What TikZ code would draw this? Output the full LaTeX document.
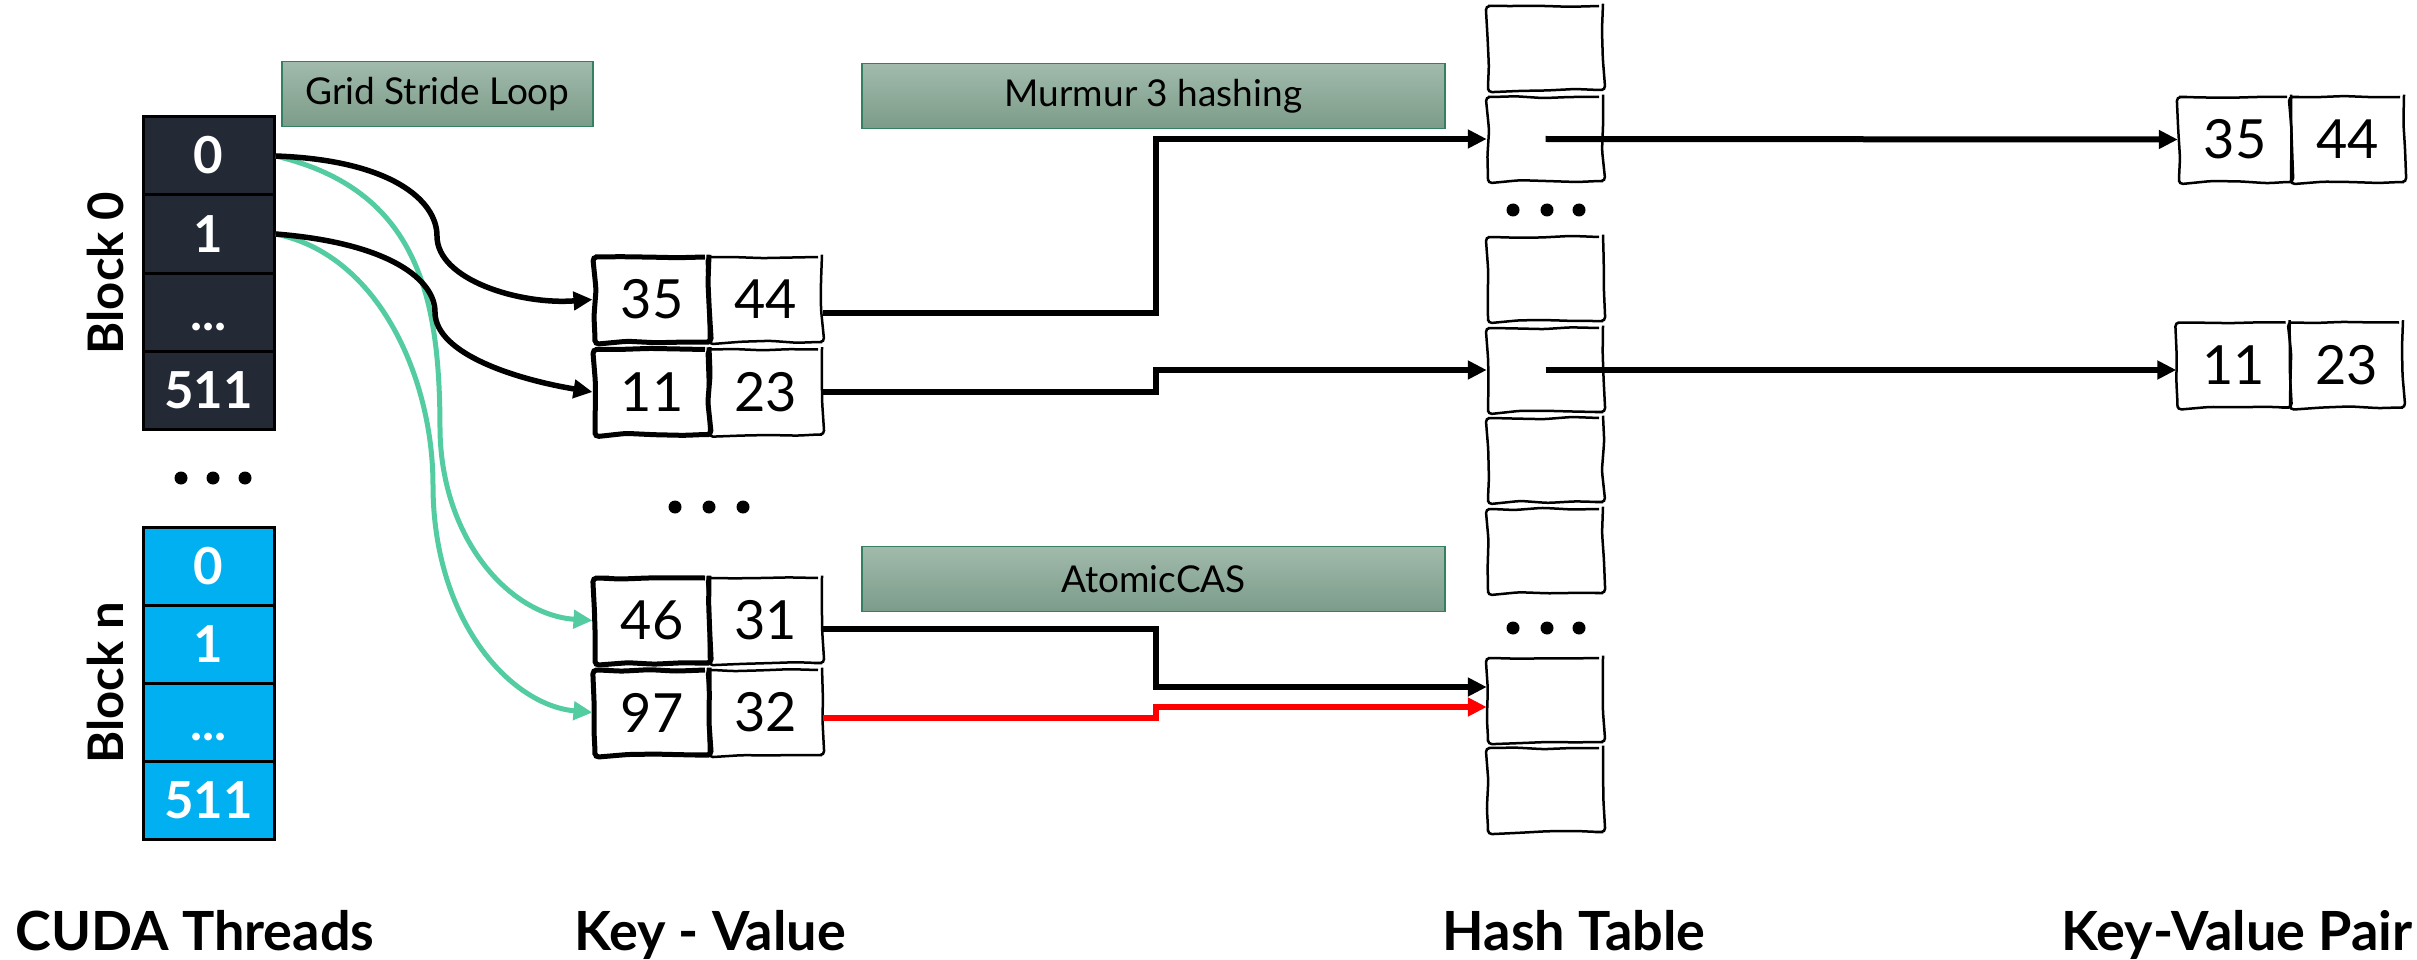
\documentclass[tikz,border=0pt]{standalone}
\usepackage{fontspec}
\setmainfont{Lato}
\usetikzlibrary{arrows.meta,decorations.pathmorphing,calc}

\definecolor{navy}{RGB}{35,42,53}
\definecolor{cyanblk}{RGB}{0,176,240}
\definecolor{linkgreen}{RGB}{82,204,160}
\definecolor{tagtop}{RGB}{161,186,171}
\definecolor{tagbot}{RGB}{124,156,138}
\definecolor{tagedge}{RGB}{52,128,96}

\newcommand\fsz[1]{\fontsize{#1}{#1}\selectfont}

\begin{document}
\begin{tikzpicture}[x=1pt,y=-1pt,
  cell/.style={draw=black, line width=3pt, minimum width=131pt, minimum height=78pt,
    inner sep=0pt, text=white, text height=36pt, text depth=0pt, font={\fsz{51}\bfseries}},
  blocklabel/.style={rotate=90, font={\fsz{49}\bfseries}},
  tag/.style={draw=tagedge, line width=1.5pt, top color=tagtop, bottom color=tagbot,
    minimum height=65pt, inner sep=0pt, font={\fsz{37}}},
  sketch/.style={draw=black, decorate,
    decoration={random steps, segment length=28pt, amplitude=1.2pt},
    rounded corners=4pt, inner sep=0pt, minimum height=85pt, font={\fsz{54}}},
  valbox/.style={sketch, line width=2.5pt, minimum width=113pt},
  keybox/.style={sketch, line width=5pt, minimum width=114pt},
  pairbox/.style={sketch, line width=2.5pt, minimum width=112pt},
  slot/.style={sketch, line width=2.5pt, minimum width=115pt, minimum height=84pt},
  heading/.style={anchor=base, font={\fsz{54}\bfseries}},
  tip/.style={-{Triangle[length=19pt,width=18pt]}},
  conn/.style={tip, draw=black, line width=6pt},
  curve/.style={tip, draw=black, line width=5.5pt},
  gcurve/.style={tip, draw=linkgreen, line width=5pt},
  rconn/.style={tip, draw=red, line width=6pt},
  dot/.style={circle, fill=black, inner sep=0pt, minimum size=13pt}
]
\pgfmathsetseed{12}
\useasboundingbox (0,0) rectangle (2417,960);

% thread blocks
\node[cell, fill=navy] (t0) at (208.5,156) {0};
\node[cell, fill=navy] (t1) at (208.5,234) {1};
\node[cell, fill=navy] (t2) at (208.5,312) {...};
\node[cell, fill=navy] (t3) at (208.5,390) {511};
\node[blocklabel] (b0) at (105,273) {Block 0};

\node[dot] (d1) at (181,478) {};
\node[dot] (d2) at (213,478) {};
\node[dot] (d3) at (245,478) {};

\node[cell, fill=cyanblk] (n0) at (208.5,566) {0};
\node[cell, fill=cyanblk] (n1) at (208.5,644) {1};
\node[cell, fill=cyanblk] (n2) at (208.5,722) {...};
\node[cell, fill=cyanblk] (n3) at (208.5,800) {511};
\node[blocklabel] (bn) at (105,683) {Block n};

% step labels
\node[tag, minimum width=311pt] (gsl) at (437.5,94) {Grid Stride Loop};
\node[tag, minimum width=583pt] (mur) at (1153.5,96) {Murmur 3 hashing};
\node[tag, minimum width=583pt] (cas) at (1153.5,579) {AtomicCAS};

% key-value input pairs
\node[valbox] (v44) at (765.5,299.5) {44};
\node[keybox] (k35) at (652,299.5) {35};
\node[valbox] (v23) at (765.5,392) {23};
\node[keybox] (k11) at (652,392) {11};
\node[valbox] (v31) at (765.5,620.5) {31};
\node[keybox] (k46) at (652,620.5) {46};
\node[valbox] (v32) at (765.5,712.5) {32};
\node[keybox] (k97) at (652,712.5) {97};

\node[dot] (m1) at (675,507) {};
\node[dot] (m2) at (709,507) {};
\node[dot] (m3) at (743,507) {};

% hash table slots
\node[slot] (h1) at (1545.5,48) {};
\node[slot] (h2) at (1545.5,139) {};
\node[slot] (h3) at (1545.5,279) {};
\node[slot] (h4) at (1545.5,370) {};
\node[slot] (h5) at (1545.5,460) {};
\node[slot] (h6) at (1545.5,551) {};
\node[slot] (h7) at (1545.5,700) {};
\node[slot] (h8) at (1545.5,790) {};

\node[dot] (s1) at (1513,210) {};
\node[dot] (s2) at (1547,210) {};
\node[dot] (s3) at (1579,210) {};
\node[dot] (s4) at (1513,628) {};
\node[dot] (s5) at (1547,628) {};
\node[dot] (s6) at (1579,628) {};

% stored pairs
\node[pairbox] (p1k) at (2235,139.5) {35};
\node[pairbox, minimum width=113pt] (p1v) at (2347.5,139.5) {44};
\node[pairbox] (p2k) at (2233.5,365) {11};
\node[pairbox, minimum width=113pt] (p2v) at (2346.5,365) {23};

% headings
\node[heading] (hd1) at (195,950) {CUDA Threads};
\node[heading] (hd2) at (710,950) {Key - Value};
\node[heading] (hd3) at (1574,950) {Hash Table};
\node[heading] (hd4) at (2237,950) {Key-Value Pair};

% threads to pairs (grid stride)
\draw[gcurve] (t0.east) .. controls (420,190) and (440,300) .. (440,431)
  .. controls (442,540) and (510,615) .. (k46.west);
\draw[gcurve] (t1.east) .. controls (380,255) and (433,380) .. (433,485)
  .. controls (433,620) and (510,705) .. (k97.west);
\draw[curve] (t0.east) .. controls (390,160) and (437,200) .. (437,236)
  .. controls (437,280) and (520,305) .. (k35.west);
\draw[curve] (t1.east) .. controls (390,243) and (435,280) .. (435,312)
  .. controls (435,355) and (520,380) .. (k11.west);

% pairs to hash slots
\coordinate (sx) at (1156,0);
\coordinate (h7a) at ([yshift=13pt]h7.west);
\coordinate (h7b) at ([yshift=-7pt]h7.west);
\draw[conn] ([yshift=-13pt]v44.east) -| (sx |- h2.west) -- (h2.west);
\draw[conn] (v23.east) -| (sx |- h4.west) -- (h4.west);
\draw[conn] ([yshift=-8pt]v31.east) -| (sx |- h7a) -- (h7a);
\draw[rconn] ([yshift=-5pt]v32.east) -| (sx |- h7b) -- (h7b);

% slots to stored pairs
\draw[conn] (h2.center) -- (p1k.west);
\draw[conn] (h4.center) -- (h4.center -| p2k.west);
\end{tikzpicture}
\end{document}
